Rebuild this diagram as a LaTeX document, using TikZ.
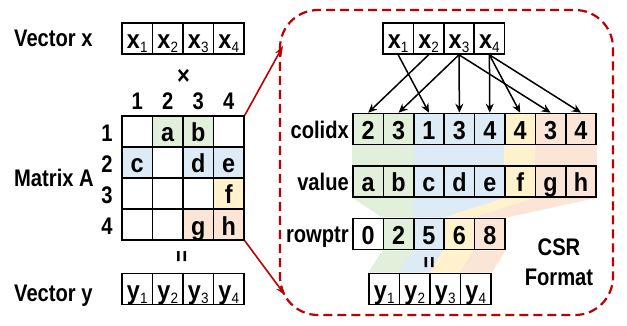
\documentclass[tikz,border=0pt]{standalone}
\usepackage{fontspec}
\setmainfont{Liberation Sans}[FakeStretch=0.84]
\newfontfamily\cellfont{Liberation Sans}[FakeStretch=0.9]
\usetikzlibrary{arrows.meta,backgrounds}
\definecolor{cg}{HTML}{E2EFDA}
\definecolor{cb}{HTML}{DDEBF7}
\definecolor{cy}{HTML}{FFF2CC}
\definecolor{co}{HTML}{FBE5D6}
\definecolor{dred}{HTML}{C00000}
\newcommand\sbs[1]{\raisebox{-3.5pt}{\fontsize{15}{15}\selectfont\mdseries #1}}
\newcommand\vx[2]{{\fontsize{26}{26}\selectfont #1}\sbs{#2}}
\tikzset{
  cell/.style={draw, line width=1.6pt, minimum width=30.5pt, minimum height=31pt,
    inner sep=0pt, text height=21pt, text depth=0pt,
    font=\fontsize{26}{26}\selectfont\cellfont\bfseries},
  rcell/.style={cell, minimum width=30.4pt},
  lbl/.style={font=\fontsize{24}{24}\selectfont\bfseries, inner sep=0pt},
  ptr/.style={-{Stealth[length=9pt,width=8pt]}, line width=1.5pt},
  redarr/.style={dred, line width=1.6pt, -{Stealth[length=10pt,width=7pt]}},
  eqv/.style={lbl, rotate=90},
}
\begin{document}
\begin{tikzpicture}[x=1pt,y=-1pt]
\useasboundingbox (0,0) rectangle (627,326);
% ---------- left side ----------
\node[lbl, anchor=base west] (lvx) at (14,47) {Vector x};
\foreach \i in {1,...,4}
  \node[cell] (xl\i) at ({137.25+30.5*(\i-1)},38.5) {\vx{x}{\i}};
\node[lbl, font=\fontsize{26}{26}\selectfont\bfseries] (times) at (183.5,77) {×};
\foreach \i in {1,...,4}
  \node[lbl, anchor=base] (cn\i) at ({137.25+30.5*(\i-1)},110) {\i};
\foreach \r in {1,...,4}
  \node[lbl, anchor=base] (rn\r) at (107,{141.5+31*(\r-1)}) {\r};
\node[lbl, anchor=base west] (lma) at (14,187) {Matrix A};
\foreach \r/\c/\col/\t in {1/1/white/,1/2/cg/a,1/3/cg/b,1/4/white/,
    2/1/cb/c,2/2/white/,2/3/cb/d,2/4/cb/e,
    3/1/white/,3/2/white/,3/3/white/,3/4/cy/f,
    4/1/white/,4/2/white/,4/3/co/g,4/4/co/h}
  \node[cell, fill=\col] (m\r\c) at ({137.25+30.5*(\c-1)},{131.5+31*(\r-1)}) {\t};
\node[eqv] (eql) at (183.5,257) {=};
\foreach \i in {1,...,4}
  \node[cell] (yl\i) at ({137.25+30.5*(\i-1)},289) {\vx{y}{\i}};
\node[lbl, anchor=base west] (lvy) at (14,301) {Vector y};
% ---------- CSR box ----------
\draw[dred, line width=2.2pt, dash pattern=on 9pt off 5pt, rounded corners=38pt]
  (280,10) rectangle (613,315);
\coordinate (ta) at (283,46);
\coordinate (ba) at (285,295);
\draw[redarr] (m14.north east) -- (ta);
\draw[redarr] (m44.south east) -- (ba);
% ---------- right side ----------
\foreach \i in {1,...,4}
  \node[rcell] (xr\i) at ({398.2+30.4*(\i-1)},38.5) {\vx{x}{\i}};
\foreach \k/\v/\col in {1/2/cg,2/3/cg,3/1/cb,4/3/cb,5/4/cb,6/4/cy,7/3/co,8/4/co}
  \node[rcell, fill=\col] (ci\k) at ({368.2+30.4*(\k-1)},129) {\v};
\foreach \k/\v/\col in {1/a/cg,2/b/cg,3/c/cb,4/d/cb,5/e/cb,6/f/cy,7/g/co,8/h/co}
  \node[rcell, fill=\col] (va\k) at ({368.2+30.4*(\k-1)},181.5) {\v};
\foreach \k/\v/\col in {1/0/white,2/2/cg,3/5/cb,4/6/cy,5/8/co}
  \node[rcell, fill=\col] (rp\k) at ({368.2+30.4*(\k-1)},234) {\v};
\foreach \i in {1,...,4}
  \node[cell] (yr\i) at ({384.25+30.5*(\i-1)},289) {\vx{y}{\i}};
\node[lbl, anchor=base east] (lci) at (349,139) {colidx};
\node[lbl, anchor=base east] (lva) at (349,191) {value};
\node[lbl, anchor=base east] (lrp) at (349,243) {rowptr};
\node[eqv] (eqr) at (431,263) {=};
\node[lbl, anchor=base] (csr1) at (559,255) {CSR};
\node[lbl, anchor=base] (csr2) at (559,285) {Format};
% arrows x -> colidx
\foreach \k/\j in {1/2,2/3,3/1,4/3,5/4,6/4,7/3,8/4}
  \draw[ptr] (xr\j.south) -- (ci\k.north);
% ---------- bands ----------
\begin{scope}[on background layer]
  \fill[cg] (ci1.south west) rectangle (va2.north east);
  \fill[cb] (ci3.south west) rectangle (va5.north east);
  \fill[cy] (ci6.south west) rectangle (va6.north east);
  \fill[co] (ci7.south west) rectangle (va8.north east);
  \fill[cg] (va1.south west) -- (va2.south east) -- (rp2.north east) -- (rp2.north west) -- cycle;
  \fill[cb] (va3.south west) -- (va5.south east) -- (rp3.north east) -- (rp3.north west) -- cycle;
  \fill[cy] (va6.south west) -- (va6.south east) -- (rp4.north east) -- (rp4.north west) -- cycle;
  \fill[co] (va7.south west) -- (va8.south east) -- (rp5.north east) -- (rp5.north west) -- cycle;
  \fill[cg] (rp2.south west) -- (rp2.south east) -- (yr1.north east) -- (yr1.north west) -- cycle;
  \fill[cb] (rp3.south west) -- (rp3.south east) -- (yr2.north east) -- (yr2.north west) -- cycle;
  \fill[cy] (rp4.south west) -- (rp4.south east) -- (yr3.north east) -- (yr3.north west) -- cycle;
  \fill[co] (rp5.south west) -- (rp5.south east) -- (yr4.north east) -- (yr4.north west) -- cycle;
\end{scope}
\end{tikzpicture}
\end{document}
